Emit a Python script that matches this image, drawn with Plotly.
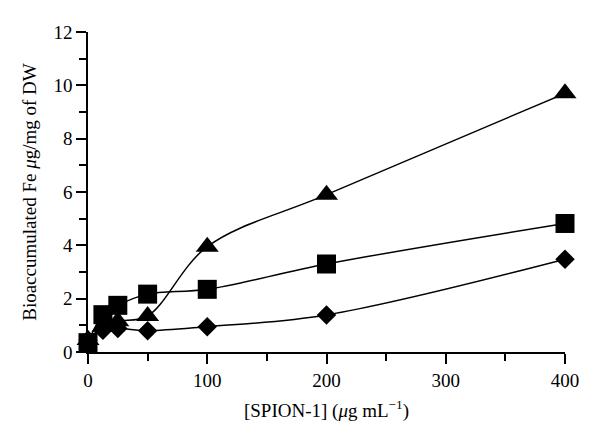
import plotly.graph_objects as go

conc = [0, 12.5, 25, 50, 100, 200, 400]
fe_triangle = [0.45, 0.95, 1.15, 1.35, 3.95, 5.9, 9.7]
fe_square = [0.35, 1.4, 1.75, 2.17, 2.35, 3.3, 4.82]
fe_diamond = [0.45, 0.82, 0.88, 0.8, 0.95, 1.39, 3.48]

font_family = "Liberation Serif"

fig = go.Figure()
series = [
    (fe_diamond, "diamond", 15),
    (fe_triangle, "triangle-up", 20),
    (fe_square, "square", 19),
]
for vals, sym, size in series:
    fig.add_trace(go.Scatter(
        x=conc, y=vals, mode="lines+markers",
        line=dict(color="black", width=1.5, shape="spline", smoothing=1.0),
        marker=dict(symbol=sym, size=size, color="black"),
        cliponaxis=False, showlegend=False,
    ))

axis_common = dict(
    showline=True, linecolor="black", linewidth=1.5,
    ticks="outside", ticklen=10, tickwidth=1.5, tickcolor="black",
    showgrid=False, zeroline=False, automargin=False,
    tickfont=dict(family=font_family, size=19, color="black"),
)

fig.update_xaxes(
    range=[0, 400], tickvals=[0, 100, 200, 300, 400],
    minor=dict(ticks="outside", ticklen=7, tickwidth=1.5, tickcolor="black", dtick=50, tick0=0),
    title=dict(text="[SPION-1] (<i>μ</i>g mL<sup>−1</sup>)",
               font=dict(family=font_family, size=19, color="black"), standoff=14),
    **axis_common,
)
fig.update_yaxes(
    range=[0, 12], tickvals=[0, 2, 4, 6, 8, 10, 12],
    minor=dict(ticks="outside", ticklen=7, tickwidth=1.5, tickcolor="black", dtick=1, tick0=0),
    title=dict(text="Bioaccumulated Fe <i>μ</i>g/mg of DW",
               font=dict(family=font_family, size=19, color="black"), standoff=12),
    **axis_common,
)

fig.update_layout(
    width=592, height=439,
    margin=dict(l=80, r=35, t=24, b=95),
    plot_bgcolor="white", paper_bgcolor="white",
)

fig.write_html("out.html")
